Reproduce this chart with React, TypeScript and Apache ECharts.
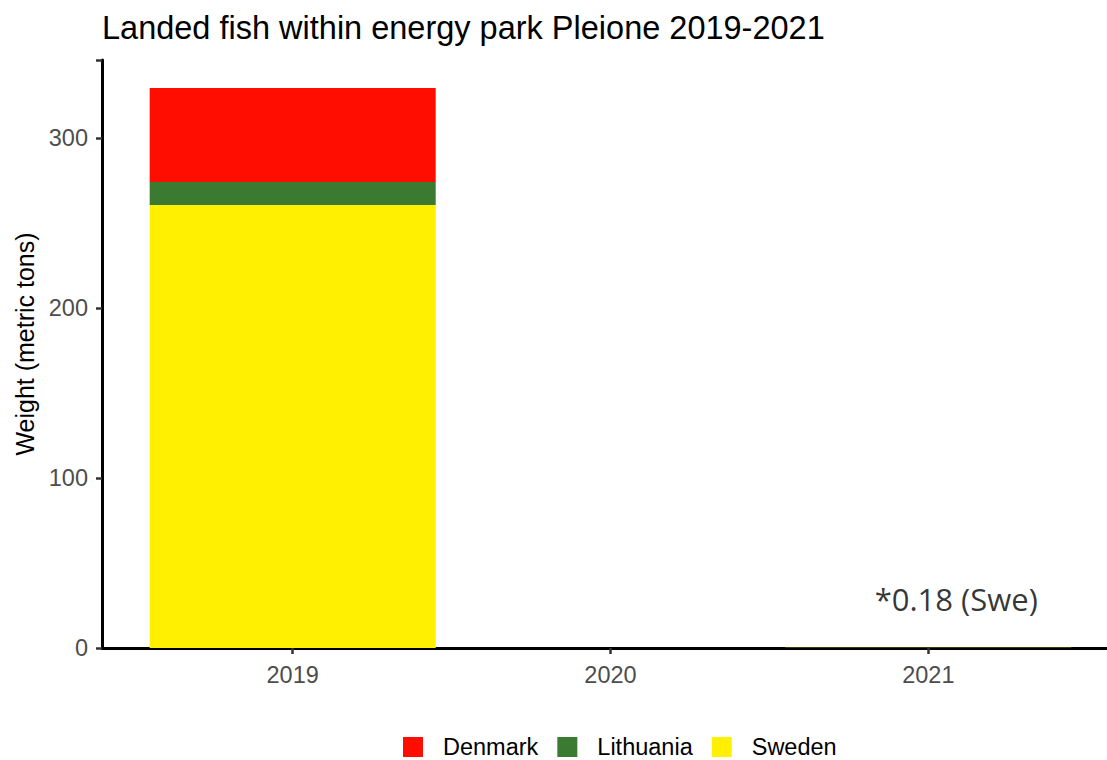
import React, { useEffect, useRef } from "react";
import * as echarts from "echarts";

const years = ["2019", "2020", "2021"];
const sweden = [260.7, 0, 0.18];
const lithuania = [13.5, 0, 0];
const denmark = [55.3, 0, 0];
const yTicks = [0, 100, 200, 300];
const note = { x: 3.12, y: 29, text: "*0.18 (Swe)" };

const FONT = "'Liberation Sans', Arial, sans-serif";

export default function App() {
  const ref = useRef<HTMLDivElement>(null);
  useEffect(() => {
    const chart = echarts.init(ref.current!, null, { renderer: "svg" });
    const totals = years.map((_, i) => sweden[i] + lithuania[i] + denmark[i]);
    const yMax = Math.max(...totals) * 1.05;
    // ggplot-like discrete expansion of 0.6 category on each side
    const W = 1107 + 12 - 102; // outer panel width
    const band = W / (years.length + 0.2);
    const innerLeft = 102 + band * 0.1;
    const innerRight = -12 + band * 0.1;
    const barCommon = {
      type: "bar",
      stack: "total",
      barWidth: "90%",
      xAxisIndex: 0,
      yAxisIndex: 0,
      emphasis: { disabled: true },
    };
    chart.setOption({
      animation: false,
      title: {
        text: "Landed fish within energy park Pleione 2019-2021",
        left: 97,
        top: 6,
        textStyle: { fontFamily: FONT, fontSize: 32.5, fontWeight: "normal", color: "#000" },
      },
      legend: {
        data: ["Denmark", "Lithuania", "Sweden"],
        bottom: 1,
        left: 403,
        padding: 0,
        icon: "rect",
        itemWidth: 20,
        itemHeight: 20,
        itemGap: 19,
        textStyle: { fontFamily: FONT, fontSize: 23.5, color: "#000", padding: [0, 0, 0, 15] },
      },
      grid: [
        { left: innerLeft, right: innerRight, top: 60, bottom: 112, containLabel: false },
        { left: 102, right: -12, top: 60, bottom: 112, containLabel: false },
      ],
      xAxis: [
        {
          type: "category",
          gridIndex: 0,
          data: years,
          axisLine: { show: false },
          axisTick: { show: true, alignWithLabel: true, length: 6, lineStyle: { color: "#333", width: 2.5 } },
          axisLabel: { fontFamily: FONT, fontSize: 23.5, color: "#4D4D4D", margin: 15 },
        },
        {
          type: "value",
          gridIndex: 1,
          min: 0.4,
          max: years.length + 0.6,
          splitLine: { show: false },
          axisLine: { onZero: false, lineStyle: { color: "#000", width: 3 } },
          axisTick: { show: false },
          axisLabel: { show: false },
        },
      ],
      yAxis: [
        { type: "value", gridIndex: 0, min: 0, max: yMax, show: false, splitLine: { show: false } },
        {
          type: "value",
          gridIndex: 1,
          min: 0,
          max: yMax,
          interval: 100,
          name: "Weight (metric tons)",
          nameLocation: "middle",
          nameGap: 62,
          nameTextStyle: { fontFamily: FONT, fontSize: 25, color: "#000", padding: [0, 0, 0, 20] },
          splitLine: { show: false },
          axisLine: { show: true, onZero: false, lineStyle: { color: "#000", width: 3 } },
          axisTick: { show: true, length: 6, lineStyle: { color: "#333", width: 2.5 } },
          axisLabel: {
            customValues: yTicks,
            fontFamily: FONT,
            fontSize: 23.5,
            color: "#4D4D4D",
            margin: 14,
          },
        },
      ],
      series: [
        { ...barCommon, name: "Sweden", data: sweden, itemStyle: { color: "#FFEF00" } },
        { ...barCommon, name: "Lithuania", data: lithuania, itemStyle: { color: "#3B7A31" } },
        { ...barCommon, name: "Denmark", data: denmark, itemStyle: { color: "#FF0D00" } },
        {
          type: "scatter",
          name: "note",
          xAxisIndex: 1,
          yAxisIndex: 1,
          symbolSize: 0,
          data: [[note.x, note.y]],
          silent: true,
          label: {
            show: true,
            position: "inside",
            formatter: note.text,
            fontFamily: "'Open Sans', sans-serif",
            fontSize: 31,
            color: "#000",
          },
        },
      ],
    });
    return () => chart.dispose();
  }, []);
  return (
    <div style={{ position: "absolute", left: 0, top: 0, width: 1107, height: 760, overflow: "hidden", background: "#fff" }}>
      <div ref={ref} style={{ width: 1107, height: 760 }} />
    </div>
  );
}
